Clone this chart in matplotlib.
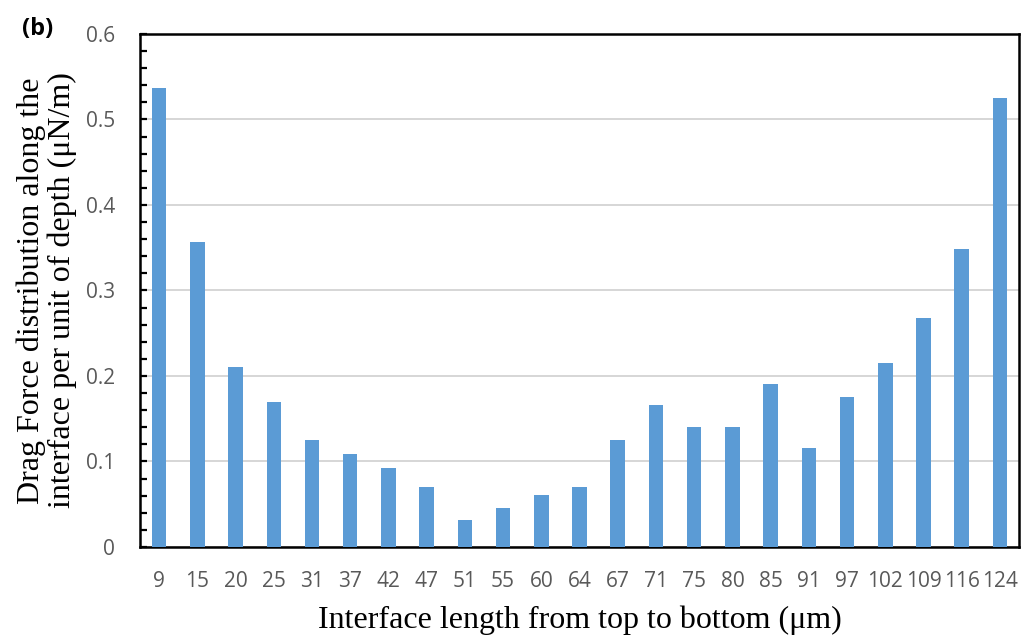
import matplotlib.pyplot as plt
from matplotlib.ticker import MultipleLocator, FuncFormatter

# interface positions (um) and drag force (uN/m)
positions = ["9", "15", "20", "25", "31", "37", "42", "47", "51", "55", "60", "64",
             "67", "71", "75", "80", "85", "91", "97", "102", "109", "116", "124"]
drag_force = [0.537, 0.357, 0.211, 0.169, 0.125, 0.109, 0.092, 0.070, 0.032, 0.046,
              0.061, 0.070, 0.125, 0.166, 0.140, 0.140, 0.191, 0.116, 0.175, 0.215,
              0.268, 0.349, 0.525]

fig = plt.figure(figsize=(10.31, 6.39), dpi=100)
ax = fig.add_axes([0.1358, 0.144, 0.8526, 0.8028])

x = range(len(positions))
ax.bar(x, drag_force, width=0.38, color="#5B9BD5", zorder=3)

ax.set_xlim(-0.5, len(positions) - 0.5)
ax.set_ylim(0, 0.6)
ax.set_xticks(list(x))
ax.set_xticklabels(positions)
ax.yaxis.set_major_locator(MultipleLocator(0.1))
ax.yaxis.set_minor_locator(MultipleLocator(0.02))
ax.yaxis.set_major_formatter(FuncFormatter(lambda v, p: "0" if abs(v) < 1e-9 else f"{v:.1f}"))

ax.grid(axis="y", which="major", color="#d0d0d0", linewidth=1.2, zorder=0)

for s in ax.spines.values():
    s.set_linewidth(1.8)
    s.set_color("black")

ax.tick_params(axis="y", which="both", direction="in", length=5, width=1.6,
               labelsize=15, labelcolor="#595959", pad=18)
ax.tick_params(axis="x", length=0, labelsize=15, labelcolor="#595959", pad=17)
for lab in ax.get_xticklabels() + ax.get_yticklabels():
    lab.set_family("Open Sans")

ax.set_xlabel("Interface length from top to bottom (μm)", family="Liberation Serif",
              fontsize=23, labelpad=10)
ax.set_ylabel("Drag Force distribution along the\ninterface per unit of depth (μN/m)",
              family="Liberation Serif", fontsize=23, labelpad=6, linespacing=1.1)

fig.text(0.021, 0.945, "(b)", fontsize=17, fontweight="bold", family="Open Sans")

fig.savefig("out.png", dpi=100)
